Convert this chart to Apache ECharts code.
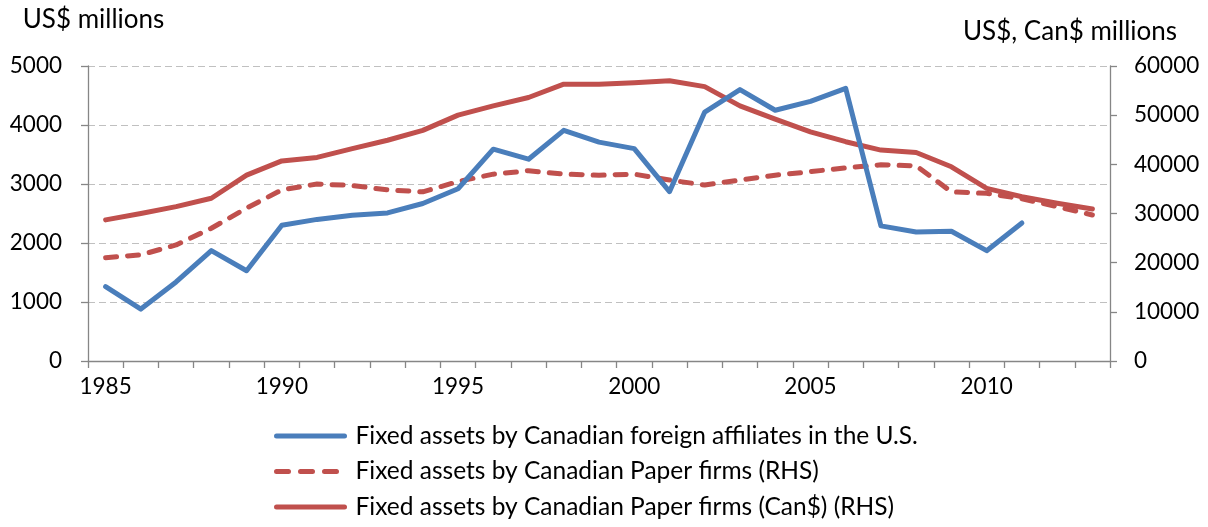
<!DOCTYPE html>
<html>
<head>
<meta charset="utf-8">
<script src="https://cdn.jsdelivr.net/npm/echarts@6/dist/echarts.min.js"></script>
<style>
html,body{margin:0;padding:0;background:#fff;}
#chart{width:1208px;height:527px;}
</style>
</head>
<body>
<div id="chart"></div>
<script>
const years = ['1985','1986','1987','1988','1989','1990','1991','1992','1993','1994','1995','1996','1997','1998','1999','2000','2001','2002','2003','2004','2005','2006','2007','2008','2009','2010','2011','2012','2013'];
const affiliatesUS = [1260, 880, 1340, 1870, 1530, 2300, 2400, 2470, 2510, 2670, 2920, 3590, 3420, 3910, 3710, 3600, 2870, 4220, 4600, 4250, 4400, 4620, 2290, 2185, 2200, 1870, 2340, null, null];
const paperUS = [21000, 21600, 23600, 27000, 31100, 34800, 36000, 35700, 34800, 34400, 36500, 38000, 38700, 38000, 37800, 38000, 36800, 35800, 36800, 37800, 38500, 39300, 39900, 39700, 34400, 34100, 33000, 31400, 29700];
const paperCan = [28700, 30000, 31400, 33100, 37800, 40700, 41400, 43200, 44900, 46900, 50000, 51900, 53600, 56300, 56300, 56600, 57000, 55800, 51900, 49200, 46600, 44600, 42900, 42400, 39500, 35100, 33400, 32100, 30900];
const seriesNames = ['Fixed assets by Canadian foreign affiliates in the U.S.', 'Fixed assets by Canadian Paper firms (RHS)', 'Fixed assets by Canadian Paper firms (Can$) (RHS)'];

const FONT = 'Lato';
const chart = echarts.init(document.getElementById('chart'), null, {renderer: 'canvas'});
const axisLineStyle = {color: '#868686', width: 1.3};
const plain = v => String(v);
chart.setOption({
  animation: false,
  textStyle: {fontFamily: FONT, color: '#000'},
  grid: {left: 88, right: 98, top: 66, bottom: 166, containLabel: false},
  legend: {
    orient: 'vertical', left: 274, top: 423, padding: 0,
    itemWidth: 68, itemHeight: 14, itemGap: 9.5,
    itemStyle: {color: 'rgba(0,0,0,0)', borderWidth: 0, opacity: 0},
    lineStyle: {width: 5, cap: 'round'},
    textStyle: {fontFamily: FONT, fontSize: 24.5, color: '#000', lineHeight: 26, padding: [0, 0, 0, 6]},
    data: [
      {name: seriesNames[0]},
      {name: seriesNames[1], lineStyle: {width: 5, type: [12, 12], cap: 'round'}},
      {name: seriesNames[2]}
    ]
  },
  xAxis: {
    type: 'category', data: years, boundaryGap: true,
    axisLine: {lineStyle: axisLineStyle},
    axisTick: {show: true, interval: 0, length: 7, lineStyle: axisLineStyle},
    axisLabel: {interval: 4, fontFamily: FONT, fontSize: 22.5, color: '#000', margin: 14},
    splitLine: {show: false}
  },
  yAxis: [
    {
      type: 'value', min: 0, max: 5000, interval: 1000, position: 'left',
      name: 'US$ millions', nameLocation: 'end', nameGap: 46,
      nameTextStyle: {fontFamily: FONT, fontSize: 26, color: '#000', align: 'center', verticalAlign: 'middle', padding: [0, 0, 0, 11]},
      axisLine: {show: true, lineStyle: axisLineStyle},
      axisTick: {show: true, length: 7, lineStyle: axisLineStyle},
      axisLabel: {formatter: plain, fontFamily: FONT, fontSize: 22.5, color: '#000', margin: 26},
      splitLine: {show: true, lineStyle: {color: '#c0c0c0', width: 1, type: [7, 4]}}
    },
    {
      type: 'value', min: 0, max: 60000, interval: 10000, position: 'right',
      name: 'US$, Can$ millions', nameLocation: 'end', nameGap: 34,
      nameTextStyle: {fontFamily: FONT, fontSize: 26, color: '#000', align: 'center', verticalAlign: 'middle', padding: [0, 80, 0, 0]},
      axisLine: {show: true, lineStyle: axisLineStyle},
      axisTick: {show: true, length: 7, lineStyle: axisLineStyle},
      axisLabel: {formatter: plain, fontFamily: FONT, fontSize: 22.5, color: '#000', margin: 24},
      splitLine: {show: false}
    }
  ],
  series: [
    {
      name: seriesNames[0], type: 'line', yAxisIndex: 0, data: affiliatesUS,
      symbol: 'none', showSymbol: false, connectNulls: false,
      lineStyle: {color: '#4a7ebb', width: 5, join: 'round', cap: 'round'},
      itemStyle: {color: '#4a7ebb'}, z: 3
    },
    {
      name: seriesNames[1], type: 'line', yAxisIndex: 1, data: paperUS,
      symbol: 'none', showSymbol: false,
      lineStyle: {color: '#c0504d', width: 5, type: [11, 11], cap: 'round', join: 'round'},
      itemStyle: {color: '#c0504d'}, z: 2
    },
    {
      name: seriesNames[2], type: 'line', yAxisIndex: 1, data: paperCan,
      symbol: 'none', showSymbol: false,
      lineStyle: {color: '#c0504d', width: 5, join: 'round', cap: 'round'},
      itemStyle: {color: '#c0504d'}, z: 2
    }
  ]
});
</script>
</body>
</html>
